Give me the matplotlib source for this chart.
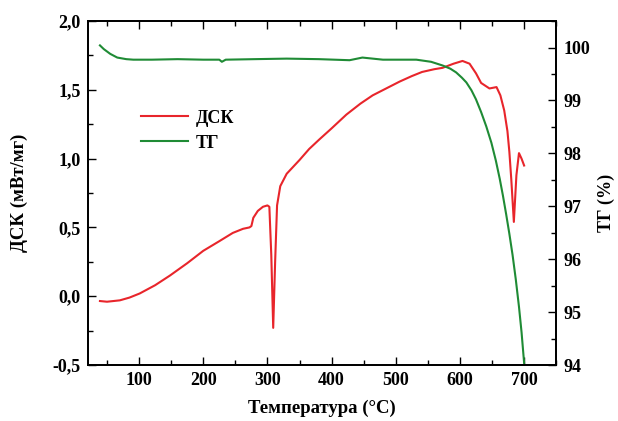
import matplotlib.pyplot as plt
from matplotlib.ticker import MultipleLocator, FuncFormatter

plt.rcParams['font.family'] = ['Liberation Serif', 'DejaVu Serif']
plt.rcParams['font.weight'] = 'bold'
plt.rcParams['font.size'] = 13

# ДСК curve (temperature, mW/mg)
dsc_t = [39, 50, 60, 70, 85, 101, 125, 148, 175, 200, 225, 246, 262, 272, 275, 278,
         285, 293, 300, 303, 306, 309, 312, 315, 320, 330, 340, 350, 365, 381, 400,
         423, 445, 464, 485, 506, 525, 541, 560, 573, 590, 604, 615, 625, 633, 646,
         657, 663, 669, 674, 677, 680, 684, 688, 692, 696, 700]
dsc_v = [-0.035, -0.04, -0.035, -0.03, -0.01, 0.02, 0.08, 0.15, 0.24, 0.33, 0.40, 0.46, 0.49,
         0.50, 0.51, 0.57, 0.62, 0.65, 0.66, 0.65, 0.30, -0.23, 0.25, 0.66, 0.80, 0.89,
         0.94, 0.99, 1.07, 1.14, 1.22, 1.32, 1.40, 1.46, 1.51, 1.56, 1.60, 1.63, 1.65,
         1.66, 1.69, 1.71, 1.69, 1.62, 1.55, 1.51, 1.52, 1.46, 1.35, 1.20, 1.05, 0.85,
         0.54, 0.88, 1.04, 1.00, 0.95]

# ТГ curve (temperature, %)
tg_t = [39, 45, 55, 66, 80, 91, 120, 160, 200, 225, 229, 235, 280, 330, 380, 428, 448,
        480, 532, 555, 573, 585, 594, 603, 610, 618, 625, 633, 641, 649, 656, 662,
        667, 672, 677, 682, 687, 692, 696, 700]
tg_v = [100.04, 99.97, 99.88, 99.81, 99.78, 99.77, 99.77, 99.78, 99.77, 99.77, 99.73,
        99.77, 99.78, 99.79, 99.78, 99.76, 99.81, 99.77, 99.77, 99.73, 99.66, 99.60,
        99.53, 99.43, 99.34, 99.19, 99.02, 98.78, 98.51, 98.20, 97.86, 97.52, 97.20,
        96.85, 96.48, 96.08, 95.62, 95.10, 94.62, 94.04]

fig, ax = plt.subplots(figsize=(6.18, 4.21), dpi=100)
fig.subplots_adjust(left=0.142, right=0.9, top=0.95, bottom=0.133)

l1, = ax.plot(dsc_t, dsc_v, color='#e8252b', lw=1.5, label='ДСК')
ax2 = ax.twinx()
l2, = ax2.plot(tg_t, tg_v, color='#1f8b35', lw=1.5, label='ТГ')

ax.set_xlim(20, 750)
ax.set_ylim(-0.5, 2.0)
ax2.set_ylim(94, 100.5)

ax.xaxis.set_major_locator(MultipleLocator(100))
ax.xaxis.set_minor_locator(MultipleLocator(50))
ax.yaxis.set_major_locator(MultipleLocator(0.5))
ax.yaxis.set_minor_locator(MultipleLocator(0.25))
ax.yaxis.set_major_formatter(FuncFormatter(lambda v, p: f'{v:.1f}'.replace('.', ',')))
ax2.yaxis.set_major_locator(MultipleLocator(1))
ax2.yaxis.set_minor_locator(MultipleLocator(0.5))

ax.tick_params(which='both', direction='in', top=True, labelsize=13, width=1.0)
ax.tick_params(which='major', length=6, pad=5)
ax.tick_params(which='minor', length=3.5)
ax2.tick_params(which='both', direction='in', labelsize=13, width=1.0)
ax2.tick_params(which='major', length=6, pad=5)
ax2.tick_params(which='minor', length=3.5)
for s in ax.spines.values():
    s.set_linewidth(1.3)
for s in ax2.spines.values():
    s.set_linewidth(1.3)

ax.set_xlabel('Температура (°С)', fontsize=13.5, fontweight='bold', labelpad=8)
ax.set_ylabel('ДСК (мВт/мг)', fontsize=13.5, fontweight='bold', labelpad=18)
ax2.set_ylabel('ТГ (%)', fontsize=13, fontweight='bold')
ax2.yaxis.set_label_coords(1.088, 0.47)

ax.legend([l1, l2], ['ДСК', 'ТГ'], loc='upper left', bbox_to_anchor=(0.08, 0.79),
          frameon=False, fontsize=13, handlelength=2.6, handletextpad=0.4,
          labelspacing=0.45)

fig.savefig('out.png')
